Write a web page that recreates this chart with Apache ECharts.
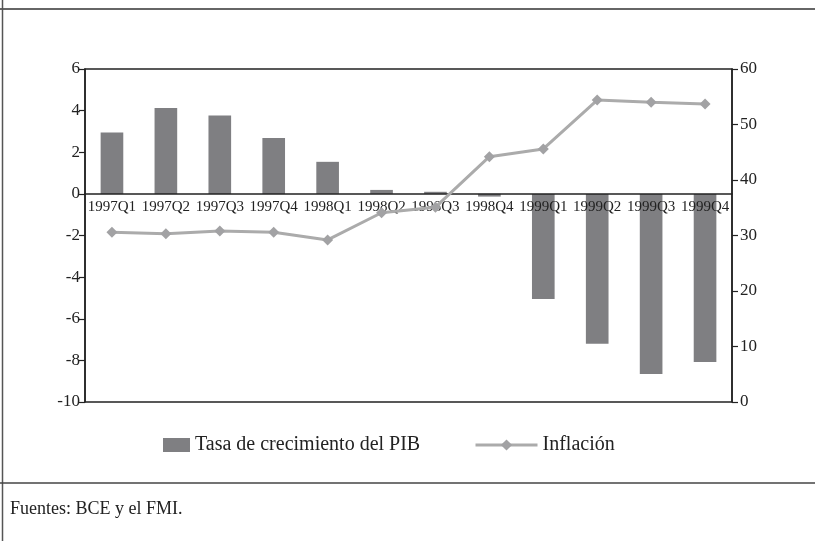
<!DOCTYPE html>
<html>
<head>
    <meta charset="utf-8">
    <title>PIB e inflación</title>
    <script src="https://cdn.jsdelivr.net/npm/echarts@6/dist/echarts.min.js"></script>
    <style>
        body { margin: 0; padding: 0; background: #fff; }
        #chart { width: 815px; height: 541px; }
    </style>
</head>
<body>
    <div id="chart"></div>
    <script>
        var quarters = ['1997Q1', '1997Q2', '1997Q3', '1997Q4', '1998Q1', '1998Q2',
                        '1998Q3', '1998Q4', '1999Q1', '1999Q2', '1999Q3', '1999Q4'];
        var pibGrowth = [2.95, 4.13, 3.77, 2.69, 1.54, 0.19, 0.1, -0.13, -5.05, -7.2, -8.65, -8.08];
        var inflation = [30.6, 30.3, 30.8, 30.6, 29.2, 34.1, 35.1, 44.2, 45.6, 54.4, 54.0, 53.7];

        var serif = 'Liberation Serif';
        var ink = '#222';

        // plot box: top 69, bottom 402 -> zero of the left axis sits 6/16 down
        var gridTop = 69, gridHeight = 333;
        var zeroOffset = gridHeight * 10 / 16;

        var chart = echarts.init(document.getElementById('chart'));

        var option = {
            animation: false,
            textStyle: { fontFamily: serif, color: ink },
            grid: {
                left: 85, right: 83, top: gridTop, bottom: 541 - gridTop - gridHeight,
                show: true, borderColor: ink, borderWidth: 1.5
            },
            legend: [{
                left: 158, top: 430,
                itemWidth: 27, itemHeight: 14, itemGap: 10,
                icon: 'rect',
                textStyle: { fontFamily: serif, fontSize: 20, color: ink },
                data: ['Tasa de crecimiento del PIB']
            }, {
                left: 469, top: 430,
                itemWidth: 62, itemHeight: 14, itemGap: 10,
                lineStyle: { width: 3 },
                textStyle: { fontFamily: serif, fontSize: 20, color: ink },
                data: ['Inflación']
            }],
            xAxis: {
                type: 'category',
                data: quarters,
                z: 5,
                offset: -zeroOffset,
                axisLine: { onZero: false, lineStyle: { color: ink, width: 1.5 } },
                axisTick: { length: 5, lineStyle: { color: ink, width: 1.2 } },
                axisLabel: { interval: 0, fontFamily: serif, fontSize: 15, color: ink, margin: 6 }
            },
            yAxis: [{
                type: 'value',
                min: -10, max: 6, interval: 2,
                splitLine: { show: false },
                axisLine: { show: true, lineStyle: { color: ink, width: 1.5 } },
                axisTick: { show: true, length: 6, lineStyle: { color: ink, width: 1.2 } },
                axisLabel: { fontFamily: serif, fontSize: 17, color: ink, margin: 5 }
            }, {
                type: 'value',
                min: 0, max: 60, interval: 10,
                splitLine: { show: false },
                axisLine: { show: true, lineStyle: { color: ink, width: 1.5 } },
                axisTick: { show: true, length: 6, lineStyle: { color: ink, width: 1.2 } },
                axisLabel: { fontFamily: serif, fontSize: 17, color: ink, margin: 8 }
            }],
            series: [{
                name: 'Tasa de crecimiento del PIB',
                type: 'bar',
                yAxisIndex: 0,
                barWidth: '42%',
                itemStyle: { color: '#7f7f82' },
                data: pibGrowth
            }, {
                name: 'Inflación',
                type: 'line',
                yAxisIndex: 1,
                z: 8,
                symbol: 'diamond',
                symbolSize: 11,
                lineStyle: { color: '#ababab', width: 3 },
                itemStyle: { color: '#a2a2a4' },
                data: inflation
            }],
            graphic: [
                { type: 'line', shape: { x1: 0, y1: 9, x2: 815, y2: 9 }, style: { stroke: '#333', lineWidth: 1.5 } },
                { type: 'line', shape: { x1: 2.5, y1: 0, x2: 2.5, y2: 541 }, style: { stroke: '#555', lineWidth: 1.5 } },
                { type: 'line', shape: { x1: 0, y1: 483, x2: 815, y2: 483 }, style: { stroke: '#444', lineWidth: 1.5 } },
                {
                    type: 'text', left: 10, top: 500,
                    style: { text: 'Fuentes: BCE y el FMI.', fontFamily: serif, fontSize: 18, fill: ink }
                }
            ]
        };

        chart.setOption(option);
    </script>
</body>
</html>
